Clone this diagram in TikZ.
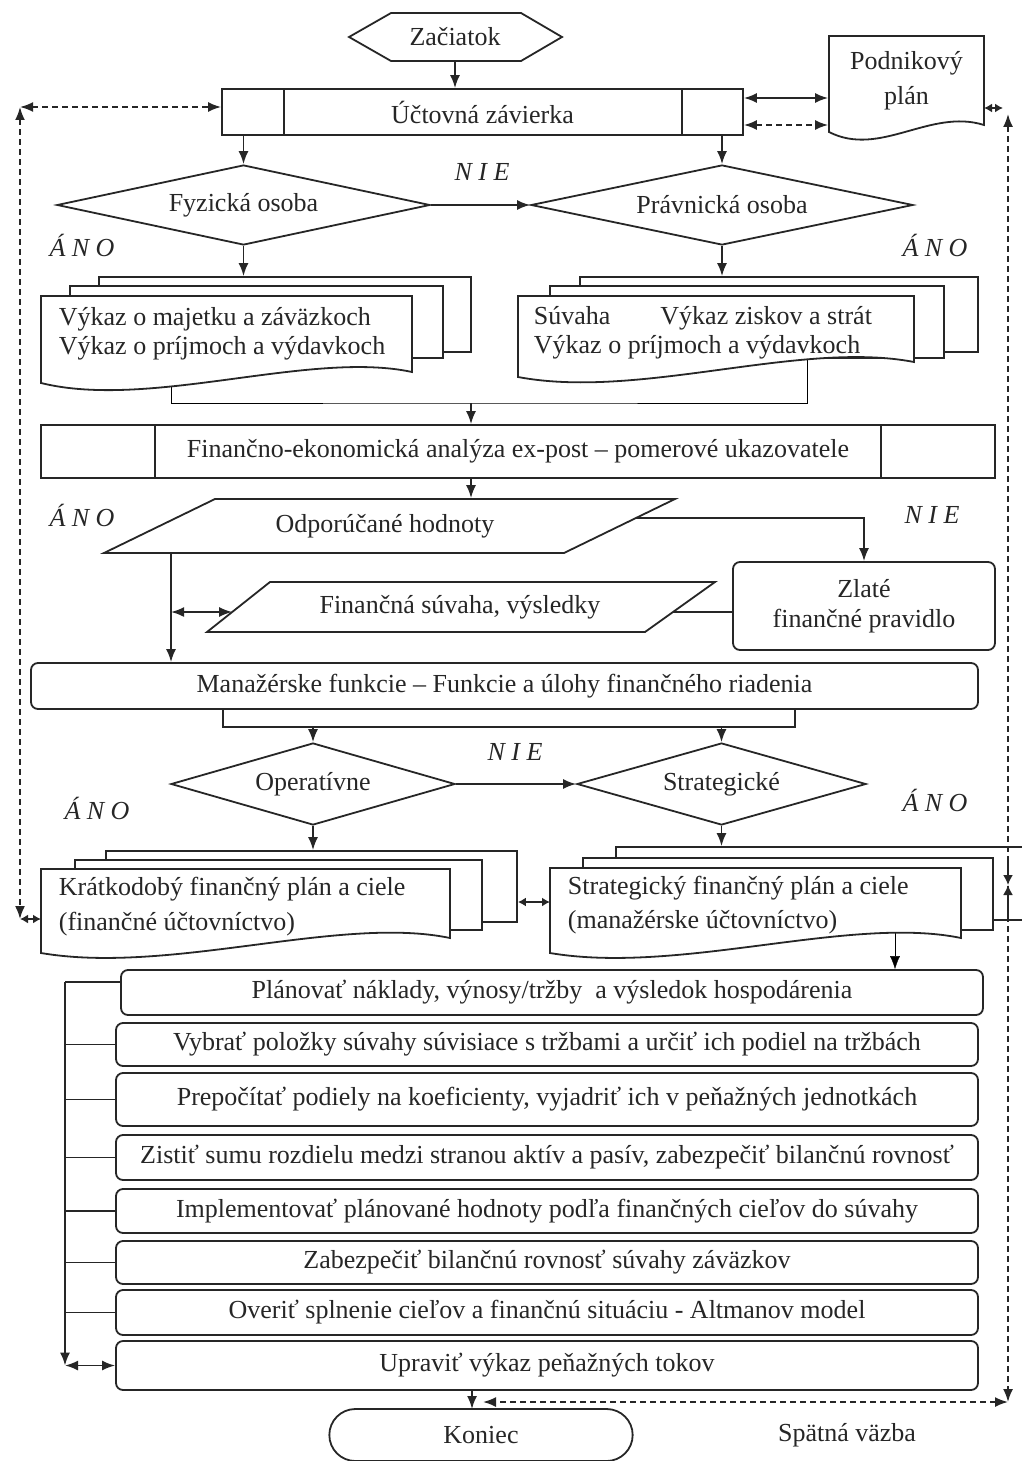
\documentclass[tikz,border=0pt]{standalone}
\usepackage{fontspec}
\setmainfont{Liberation Serif}
\usetikzlibrary{shapes.geometric, shapes.misc, arrows.meta, backgrounds, positioning, calc}

\begin{document}
\begin{tikzpicture}[x=1pt, y=-1pt, line width=1.8pt, color=black!85,
    >={Latex[length=13pt, width=10pt]},
    font=\fontsize{26}{31}\selectfont,
    box/.style={draw, fill=white, inner sep=0pt},
    rbox/.style={box, rounded corners=7pt},
    page/.style={draw, fill=white},
    decision/.style={draw, diamond, inner sep=0pt, aspect=4.5},
    doctext/.style={anchor=west, align=left, inner sep=0pt},
    fb/.style={dash pattern=on 6pt off 4pt},
    yesno/.style={font=\fontsize{26}{31}\selectfont\itshape},
    tinyarr/.style={{Latex[length=8pt, width=9pt]}-{Latex[length=8pt, width=9pt]}}]

   \useasboundingbox (0,0) rectangle (1022,1461);

   % start and closing
   \draw[page] (349,37) -- (391,13) -- (521,13) -- (562,37) -- (521,61) -- (391,61) -- cycle;
   \node[minimum height=48pt, inner sep=0pt] (start) at (455,37) {Začiatok};
   \node[box, minimum width=521pt, minimum height=46pt] (uz) at (482.5,112) {Účtovná závierka};
   \draw ([xshift=63pt]uz.north west) -- ([xshift=63pt]uz.south west)
         ([xshift=-62pt]uz.north east) -- ([xshift=-62pt]uz.south east);
   \draw[->] (start.south) -- (start.south |- uz.north);

   % business plan
   \draw[page] (829,36) -- (984,36) -- (984,125) .. controls (930,108) and (880,158) .. (829,132) -- cycle;
   \node[minimum width=155pt, minimum height=89pt, inner sep=0pt, align=center,
         font=\fontsize{26}{35}\selectfont] (plan) at (906.5,80.5) {Podnikový\\plán};
   \draw[<->] ([yshift=14pt]uz.east) -- ([yshift=14pt]uz.east -| plan.west);
   \draw[<->, fb] ([yshift=-13pt]uz.east) -- ([yshift=-13pt]uz.east -| plan.west);

   % person type
   \node[decision, minimum width=373pt, minimum height=80pt] (fyz) at (243.5,205) {Fyzická osoba};
   \node[decision, minimum width=382pt, minimum height=80pt] (prav) at (722,205) {Právnická osoba};
   \draw[->] (fyz.north |- uz.south) -- (fyz.north);
   \draw[->] (prav.north |- uz.south) -- (prav.north);
   \draw[->] (fyz.east) -- (prav.west);
   \node[yesno] (nie1) at (482,172) {N I E};
   \node[yesno] (ano1) at (82,245) {Á N O};
   \node[yesno] (ano2) at (935,245) {Á N O};

   % statements
   \node[page, minimum width=372pt, minimum height=75pt] (vykL3) at (285,314.5) {};
   \node[page, minimum width=373pt, minimum height=72pt] (vykL2) at (256.5,322) {};
   \draw[page] (41,296) -- (412,296) -- (412,372) .. controls (310,350) and (150,410) .. (41,383) -- cycle;
   \node[doctext, font=\fontsize{26}{29}\selectfont] (vykL) at (58,334)
        {Výkaz o majetku a záväzkoch\\Výkaz o príjmoch a výdavkoch};
   \draw[->] (fyz.south) -- (fyz.south |- vykL3.north);

   \node[page, minimum width=398pt, minimum height=75pt] (vykP3) at (779,314.5) {};
   \node[page, minimum width=394pt, minimum height=72pt] (vykP2) at (747,322) {};
   \draw[page] (518,296) -- (914,296) -- (914,362) .. controls (800,340) and (640,400) .. (518,377) -- cycle;
   \node[doctext, font=\fontsize{26}{29}\selectfont] (vykP) at (533,333)
        {Súvaha\hspace{50pt}Výkaz ziskov a strát\\Výkaz o príjmoch a výdavkoch};
   \draw[->] (prav.south) -- (prav.south |- vykP3.north);

   \coordinate (vykLd) at (171,375);
   \coordinate (vykPd) at (807,355);
   \coordinate (vykJ) at (471,403);

   % analysis
   \node[box, minimum width=954pt, minimum height=53pt] (ana) at (518,451.5)
        {Finančno-ekonomická analýza ex-post – pomerové ukazovatele};
   \draw ([xshift=115pt]ana.north west) -- ([xshift=115pt]ana.south west)
         ([xshift=-115pt]ana.north east) -- ([xshift=-115pt]ana.south east);
   \draw[->] (vykJ) -- (vykJ |- ana.north);

   \draw[page] (215,499) -- (675,499) -- (564,553) -- (104,553) -- cycle;
   \node[minimum height=54pt, inner sep=0pt] (odp) at (385,526) {Odporúčané hodnoty};
   \draw[->] (vykJ |- ana.south) -- (vykJ |- odp.north);
   \node[yesno] (ano3) at (82,515) {Á N O};
   \node[yesno] (nie2) at (932,515) {N I E};

   \node[rbox, minimum width=262pt, minimum height=88pt, align=center,
         font=\fontsize{26}{30}\selectfont] (zlate) at (864,606) {Zlaté\\finančné pravidlo};
   \coordinate (odpR) at (636,518);
   \draw[->] (odpR) -| (zlate.north);

   \draw[page] (270,582) -- (715,582) -- (645,632) -- (207,632) -- cycle;
   \node[minimum height=50pt, inner sep=0pt] (fin) at (460,607) {Finančná súvaha, výsledky};
   \coordinate (finR) at ($(715,582)!0.6!(645,632)$);
   \coordinate (finL) at ($(270,582)!0.6!(207,632)$);
   \draw (finR -| zlate.west) -- (finR);

   % management
   \node[rbox, minimum width=947pt, minimum height=46pt] (man) at (504.5,686)
        {Manažérske funkcie – Funkcie a úlohy finančného riadenia};
   \coordinate (odpL) at (171,553);
   \draw[->] (odpL) -- (odpL |- man.north);
   \draw[<->] (odpL |- finL) -- (finL);

   \coordinate (manL) at (223,727);
   \coordinate (manR) at (795,727);
   \draw (manL |- man.south) -- (manL) -- (manR) -- (manR |- man.south);
   \node[decision, minimum width=284pt, minimum height=82pt] (oper) at (313,784) {Operatívne};
   \node[decision, minimum width=289pt, minimum height=82pt] (strg) at (721.5,784) {Strategické};
   \draw[->] (oper.north |- manL) -- (oper.north);
   \draw[->] (strg.north |- manL) -- (strg.north);
   \draw[->] (oper.east) -- (strg.west);
   \node[yesno] (nie3) at (515,752) {N I E};
   \node[yesno] (ano4) at (97,808) {Á N O};
   \node[yesno] (ano5) at (935,800) {Á N O};

   % plans
   \node[page, minimum width=411pt, minimum height=71pt] (kratB) at (311.5,886.5) {};
   \node[page, minimum width=407pt, minimum height=70pt] (kratM) at (278.5,895) {};
   \draw[page] (41,869) -- (450,869) -- (450,938) .. controls (340,915) and (170,975) .. (41,953) -- cycle;
   \node[doctext, font=\fontsize{26}{35}\selectfont] (krat) at (58,907)
        {Krátkodobý finančný plán a ciele\\(finančné účtovníctvo)};
   \draw[->] (oper.south) -- (oper.south |- kratB.north);

   \node[page, minimum width=424pt, minimum height=73pt] (stratB) at (828,883.5) {};
   \node[page, minimum width=410pt, minimum height=72pt] (stratM) at (788,894) {};
   \draw[page] (550,868) -- (961,868) -- (961,938) .. controls (850,915) and (680,975) .. (550,953) -- cycle;
   \node[doctext, font=\fontsize{26}{34}\selectfont] (strat) at (567,905)
        {Strategický finančný plán a ciele\\(manažérske účtovníctvo)};
   \draw[->] (strg.south) -- (strg.south |- stratB.north);
   \coordinate (stratL) at (550,902);
   \draw[tinyarr] (stratL -| kratB.east) -- (stratL);
   \coordinate (stratD) at (895,925);

   % steps
   \node[rbox, minimum width=862pt, minimum height=45pt] (b1) at (552,992.5)
        {Plánovať náklady, výnosy/tržby \ a výsledok hospodárenia};
   \node[rbox, minimum width=862pt, minimum height=43pt] (b2) at (547,1044.5)
        {Vybrať položky súvahy súvisiace s tržbami a určiť ich podiel na tržbách};
   \node[rbox, minimum width=862pt, minimum height=53pt] (b3) at (547,1099.5)
        {Prepočítať podiely na koeficienty, vyjadriť ich v peňažných jednotkách};
   \node[rbox, minimum width=862pt, minimum height=45pt] (b4) at (547,1157.5)
        {Zistiť sumu rozdielu medzi stranou aktív a pasív, zabezpečiť bilančnú rovnosť};
   \node[rbox, minimum width=862pt, minimum height=44pt] (b5) at (547,1211)
        {Implementovať plánované hodnoty podľa finančných cieľov do súvahy};
   \node[rbox, minimum width=862pt, minimum height=43pt] (b6) at (547,1262.5)
        {Zabezpečiť bilančnú rovnosť súvahy záväzkov};
   \node[rbox, minimum width=862pt, minimum height=45pt] (b7) at (547,1312.5)
        {Overiť splnenie cieľov a finančnú situáciu - Altmanov model};
   \node[rbox, minimum width=862pt, minimum height=49pt] (b8) at (547,1365.5)
        {Upraviť výkaz peňažných tokov};

   \coordinate (brT) at (65,982);
   \coordinate (brB) at (65,1365.5);
   \draw[->] (brT) -- (brB);
   \draw (brT) -- (brT -| b1.west);
   \draw (b2.west) -- (b2.west -| brT);
   \draw (b3.west) -- (b3.west -| brT);
   \draw (b4.west) -- (b4.west -| brT);
   \draw (b5.west) -- (b5.west -| brT);
   \draw (b6.west) -- (b6.west -| brT);
   \draw (b7.west) -- (b7.west -| brT);
   \draw[<->] (brB) -- (b8.west);

   \node[draw, rounded rectangle, minimum width=310pt, minimum height=52pt] (kon) at (481,1435) {Koniec};
   \coordinate (konA) at (472,1409);
   \draw[->] (konA |- b8.south) -- (konA);
   \node (spat) at (847,1435) {Spätná väzba};

   \begin{scope}[on background layer]
   \draw (vykLd) |- (vykJ) -| (vykPd);
   \draw[->] (stratD) -- (stratD |- b1.north);
   \end{scope}

   % feedback
   \coordinate (fbTL) at (20,107);
   \coordinate (fbBL) at (20,919);
   \coordinate (kratL) at (41,919);
   \coordinate (fbTR) at (1008,114);
   \coordinate (fbBR) at (1008,1402);
   \coordinate (fbEnd) at (483,1402);
   \coordinate (planR) at (984,108);
   \coordinate (planR2) at (1003,108);
   \coordinate (hgT) at (1008,858);
   \coordinate (hgM) at (1008,885);
   \coordinate (hgB) at (1008,920);
   \draw[fb, <->] (fbTL) -- (fbTL -| uz.west);
   \draw[fb, <->] (fbTL) -- (fbBL);
   \draw[tinyarr] (fbBL) -- (kratL);
   \draw[tinyarr] (planR) -- (planR2);
   \draw[fb, <->] (fbTR) -- (fbBR);
   \draw[fb, <->] (fbBR) -- (fbEnd);
   \draw[-{Latex[length=10pt, width=10pt]}] (hgT) -- (hgM);
   \draw[-{Latex[length=10pt, width=10pt]}] (hgB) -- (hgM);

\end{tikzpicture}
\end{document}
